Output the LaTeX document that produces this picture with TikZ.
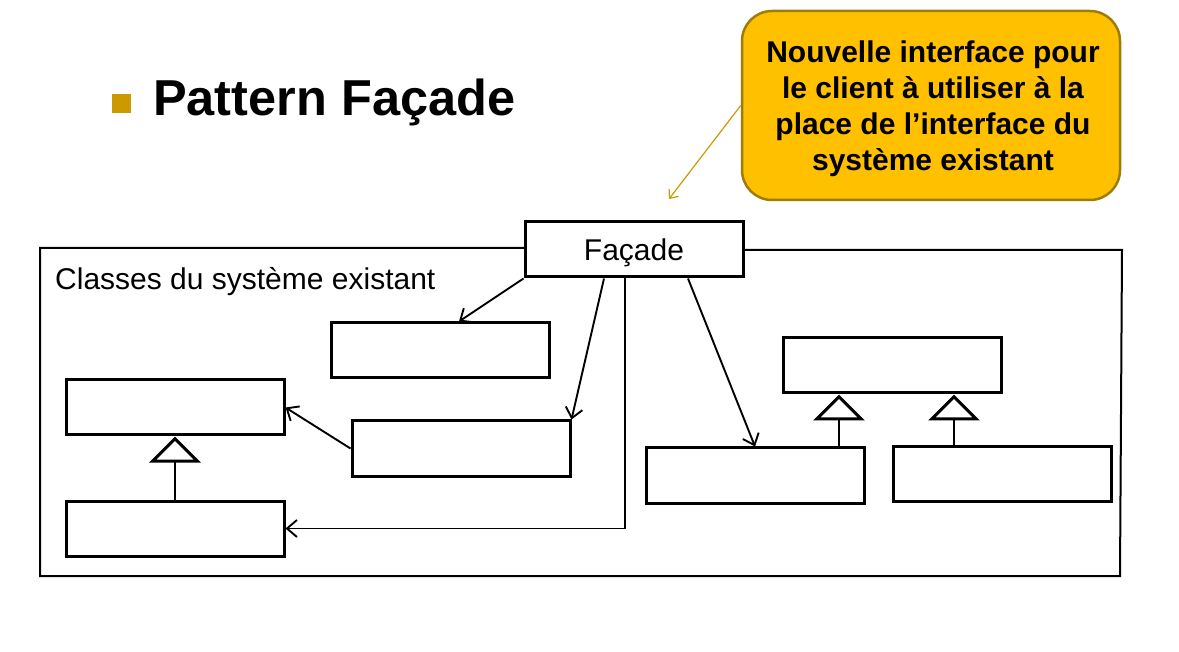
\documentclass[tikz,border=0pt]{standalone}
\usepackage{fontspec}
\setmainfont{Liberation Sans}
\usetikzlibrary{arrows.meta}
\definecolor{bulletgold}{RGB}{204,153,0}
\definecolor{notefill}{RGB}{255,192,0}
\definecolor{noteline}{RGB}{158,124,10}

\begin{document}
\begin{tikzpicture}[x=1pt,y=-1pt,
  cls/.style={draw, line width=3pt, minimum width=218pt, minimum height=55pt,
              inner sep=0pt, fill=white},
  assoc/.style={line width=1.9pt,
                -{Straight Barb[length=10pt,width=17pt,line width=1.9pt]}},
  inherit/.style={line width=2.2pt,
                  -{Triangle[open,length=26pt,width=51pt,line width=3pt]}},
  frameline/.style={line width=2pt},
  note/.style={draw=noteline, line width=2.5pt, fill=notefill,
               rounded corners=30pt, minimum width=378pt, minimum height=189pt},
  notetext/.style={align=center, inner sep=0pt,
                   font=\fontsize{30}{36}\selectfont\bfseries},
  plain/.style={font=\fontsize{30}{36}\selectfont},
]
\useasboundingbox (0,0) rectangle (1179,652);

% heading with its square bullet
\node[fill=bulletgold, minimum size=19pt, inner sep=0pt] (bullet) at (121.5,103.5) {};
\node[anchor=base west, inner sep=0pt, font=\fontsize{50.5}{60}\selectfont\bfseries]
  (title) at (153,116) {Pattern Façade};

% frame of the existing system
\draw[frameline] (525,248) -- (40,248) -- (40,576) -- (1120,576) -- (1122,250) -- (743,250);
\node[anchor=base west, inner sep=0pt, plain] (syslabel) at (55,290) {Classes du système existant};

% facade class
\node[cls, plain, text height=22pt, text depth=0pt] (facade) at (634,249.5) {Façade};

% classes of the existing system
\node[cls] (ca) at (440.5,350.5) {};
\node[cls] (cb) at (175,407.5) {};
\node[cls] (cc) at (461,448.5) {};
\node[cls] (cd) at (175,528.5) {};
\node[cls] (ce) at (892,365.5) {};
\node[cls] (cf) at (755,475.5) {};
\node[cls] (cg) at (1002,474) {};

% associations from the facade
\draw[assoc] (facade.south west) -- ([xshift=18.5pt]ca.north);
\draw[assoc] ([xshift=-30pt]facade.south) -- (cc.north east);
\draw[assoc] ([xshift=-9pt]facade.south) |- (cd.east);
\draw[assoc] ([xshift=54pt]facade.south) -- (cf.north);
\draw[assoc] (cc.west) -- (cb.east);

% generalisations
\draw[inherit] (cd.north) -- (cb.south);
\draw[inherit] ([xshift=84pt]cf.north) -- ([xshift=-53pt]ce.south);
\draw[inherit] ([xshift=-48pt]cg.north) -- ([xshift=62pt]ce.south);

% note pointing at the facade
\node[note] (note) at (931,105.5) {};
\node[notetext] (notebody) at (933,109)
  {Nouvelle interface pour\\le client à utiliser à la\\place de l’interface du\\système existant};
\coordinate (notetip) at (669,199);
\draw[bulletgold, line width=1.2pt,
      -{Straight Barb[length=7pt,width=12pt,line width=1.2pt]}] (note.west) -- (notetip);
\end{tikzpicture}
\end{document}
